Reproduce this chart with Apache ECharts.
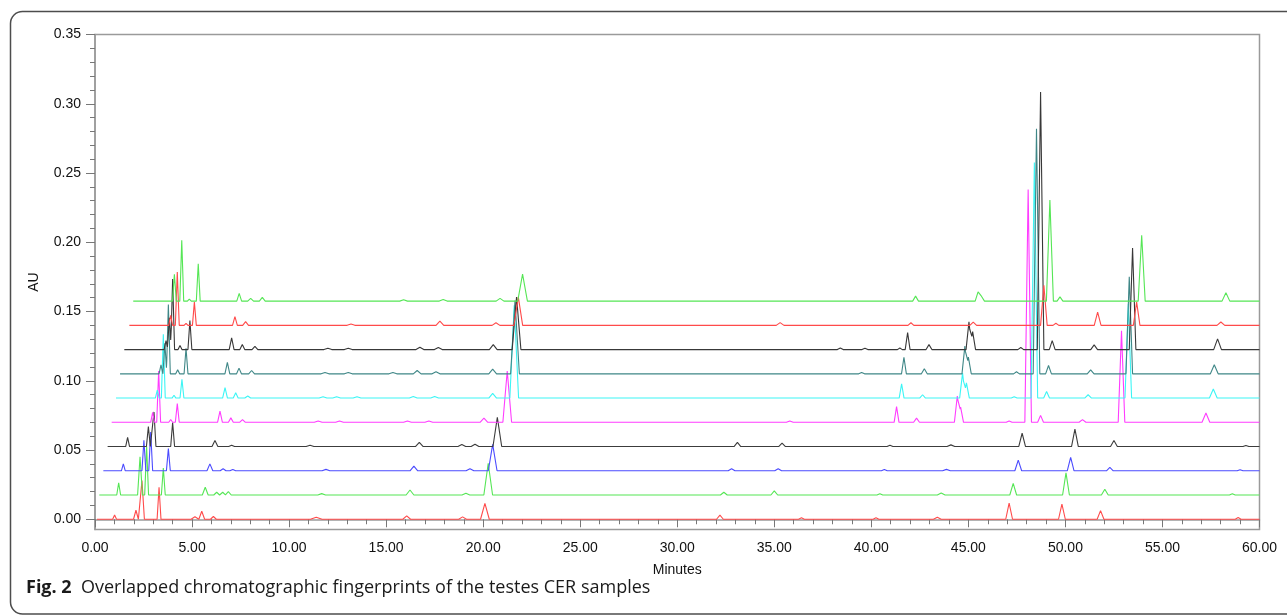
<!DOCTYPE html>
<html>
<head>
<meta charset="utf-8">
<title>Fig. 2</title>
<script src="https://cdn.jsdelivr.net/npm/echarts@6/dist/echarts.min.js"></script>
<style>
    html, body { margin: 0; padding: 0; background: #fff; }
    #e1 { width: 1287px; height: 615px; }
</style>
</head>
<body>
<div id="e1"></div>
<script>
// 10 traces, stacked upward and shifted right
var traceColors = ['#ff4a4a', '#55e655', '#4b4bff', '#3c3c3c', '#ff3cff', '#3cf5f5', '#3f8787', '#383838', '#ff4a4a', '#55e655'];
var traceBase = [0, 0.0175, 0.035, 0.0525, 0.070, 0.0875, 0.105, 0.1225, 0.140, 0.1575];
var traceStart = [0.10, 0.22, 0.43, 0.65, 0.86, 1.08, 1.29, 1.51, 1.77, 1.97];

// peaks: [minutes, height above baseline (AU), base width (min)]
var peaks0 = [[1.01, 0.003, 0.2], [2.11, 0.0065, 0.25], [2.42, 0.028, 0.25], [3.30, 0.023, 0.2], [5.15, 0.0018, 0.4],
    [5.50, 0.0058, 0.3], [6.10, 0.002, 0.3], [11.4, 0.0015, 0.6], [16.06, 0.0025, 0.4], [18.94, 0.0017, 0.4],
    [20.09, 0.0115, 0.45], [32.2, 0.003, 0.35], [36.4, 0.001, 0.3], [40.24, 0.001, 0.3], [43.4, 0.0015, 0.4],
    [47.10, 0.0116, 0.35], [49.82, 0.011, 0.35], [51.81, 0.0062, 0.35], [58.9, 0.0012, 0.3]];
var peaks1 = [[1.22, 0.0088, 0.2], [2.32, 0.0276, 0.25], [2.66, 0.035, 0.2], [3.52, 0.0195, 0.2], [5.68, 0.0056, 0.3],
    [6.27, 0.002, 0.3], [6.58, 0.002, 0.3], [6.87, 0.0025, 0.3], [11.68, 0.001, 0.4], [16.23, 0.0036, 0.4],
    [19.11, 0.0013, 0.4], [20.26, 0.0229, 0.45], [32.4, 0.002, 0.35], [35.0, 0.003, 0.35], [40.44, 0.001, 0.3],
    [43.6, 0.0015, 0.4], [47.31, 0.0084, 0.35], [50.03, 0.016, 0.35], [52.03, 0.0041, 0.35], [58.6, 0.001, 0.3]];
var peaks2 = [[1.46, 0.0050, 0.2], [2.52, 0.022, 0.2], [2.87, 0.028, 0.2], [3.78, 0.016, 0.2], [5.92, 0.0050, 0.3],
    [6.60, 0.0015, 0.3], [7.10, 0.001, 0.3], [11.9, 0.001, 0.4], [16.43, 0.0034, 0.4], [19.32, 0.0015, 0.4],
    [20.49, 0.019, 0.45], [32.8, 0.0015, 0.35], [35.2, 0.0015, 0.35], [40.67, 0.001, 0.3], [43.87, 0.001, 0.4],
    [47.57, 0.0077, 0.35], [50.27, 0.0096, 0.35], [52.29, 0.0024, 0.35], [59.0, 0.0008, 0.3]];
var peaks3 = [[1.68, 0.0066, 0.2], [2.75, 0.0144, 0.2], [3.04, 0.025, 0.2], [4.00, 0.0173, 0.2], [6.18, 0.0043, 0.3],
    [7.04, 0.001, 0.3], [11.08, 0.001, 0.4], [16.71, 0.003, 0.4], [18.9, 0.0015, 0.4], [19.58, 0.0017, 0.4],
    [20.73, 0.021, 0.45], [33.1, 0.003, 0.35], [35.4, 0.0025, 0.35], [40.96, 0.001, 0.3], [44.1, 0.0012, 0.4],
    [47.77, 0.0096, 0.35], [50.49, 0.0125, 0.35], [52.50, 0.0043, 0.35], [59.3, 0.0008, 0.3]];
var peaks4 = [[2.97, 0.0072, 0.2], [3.28, 0.037, 0.2], [3.90, 0.002, 0.2], [4.24, 0.0135, 0.2], [6.44, 0.008, 0.25],
    [7.00, 0.0032, 0.25], [7.60, 0.002, 0.3], [11.5, 0.001, 0.4], [12.6, 0.001, 0.4], [16.1, 0.001, 0.4],
    [17.2, 0.001, 0.4], [20.04, 0.0031, 0.4], [21.24, 0.037, 0.45], [35.8, 0.001, 0.35], [41.30, 0.0113, 0.25],
    [42.33, 0.003, 0.3], [44.43, 0.019, 0.3], [44.60, 0.011, 0.3], [47.10, 0.001, 0.3], [48.08, 0.168, 0.34],
    [48.72, 0.005, 0.3], [50.88, 0.0019, 0.35], [52.89, 0.066, 0.34], [57.24, 0.0067, 0.4]];
var peaks5 = [[3.21, 0.0058, 0.2], [3.52, 0.046, 0.2], [4.07, 0.002, 0.2], [4.48, 0.0135, 0.2], [6.70, 0.0075, 0.25],
    [7.25, 0.0038, 0.25], [7.87, 0.0015, 0.3], [11.75, 0.001, 0.4], [12.45, 0.001, 0.4], [13.5, 0.001, 0.4],
    [16.4, 0.0012, 0.4], [17.5, 0.0012, 0.4], [20.49, 0.0034, 0.4], [21.60, 0.067, 0.45], [41.56, 0.0103, 0.25],
    [42.64, 0.0024, 0.3], [44.70, 0.018, 0.3], [44.90, 0.011, 0.3], [47.36, 0.001, 0.3], [48.40, 0.170, 0.34],
    [49.03, 0.0048, 0.3], [51.17, 0.0024, 0.35], [53.24, 0.068, 0.34], [57.62, 0.0065, 0.4]];
var peaks6 = [[3.40, 0.0065, 0.2], [3.60, 0.022, 0.2], [3.78, 0.050, 0.2], [4.26, 0.003, 0.2], [4.69, 0.0185, 0.2],
    [6.82, 0.0082, 0.25], [7.42, 0.0041, 0.25], [8.07, 0.0024, 0.3], [11.85, 0.001, 0.4], [13.05, 0.001, 0.4],
    [15.35, 0.001, 0.4], [16.6, 0.0024, 0.4], [17.57, 0.0015, 0.4], [20.49, 0.0034, 0.4], [21.64, 0.053, 0.45],
    [39.5, 0.001, 0.3], [41.68, 0.012, 0.25], [42.73, 0.0036, 0.3], [44.82, 0.020, 0.3], [45.00, 0.012, 0.3],
    [47.48, 0.0015, 0.3], [48.51, 0.177, 0.34], [49.13, 0.006, 0.3], [51.30, 0.0029, 0.35], [53.29, 0.070, 0.34],
    [57.67, 0.0065, 0.4]];
var peaks7 = [[3.66, 0.0065, 0.2], [3.83, 0.023, 0.2], [4.00, 0.051, 0.2], [4.38, 0.003, 0.2], [4.89, 0.021, 0.2],
    [7.04, 0.0084, 0.25], [7.59, 0.0036, 0.25], [8.24, 0.0024, 0.3], [12.0, 0.001, 0.4], [13.05, 0.001, 0.4],
    [16.74, 0.0017, 0.4], [17.69, 0.0015, 0.4], [20.52, 0.0036, 0.4], [21.72, 0.038, 0.45], [38.4, 0.0012, 0.3],
    [39.67, 0.001, 0.3], [41.47, 0.0012, 0.25], [41.87, 0.0123, 0.25], [42.97, 0.0036, 0.3], [45.03, 0.020, 0.3],
    [45.22, 0.013, 0.3], [47.70, 0.0015, 0.3], [48.72, 0.186, 0.34], [49.32, 0.0065, 0.3], [51.48, 0.0034, 0.35],
    [53.46, 0.0734, 0.34], [57.84, 0.0077, 0.4]];
var peaks8 = [[3.90, 0.0072, 0.2], [4.24, 0.0385, 0.2], [4.69, 0.0015, 0.2], [5.12, 0.0168, 0.2], [7.21, 0.0063, 0.25],
    [7.76, 0.0027, 0.3], [13.19, 0.001, 0.4], [17.77, 0.0031, 0.4], [20.66, 0.0019, 0.4], [21.81, 0.0206, 0.45],
    [35.3, 0.002, 0.4], [42.04, 0.0019, 0.3], [45.25, 0.0024, 0.35], [48.89, 0.029, 0.34], [49.51, 0.0015, 0.3],
    [51.66, 0.0096, 0.35], [53.67, 0.0168, 0.34], [58.01, 0.0024, 0.4]];
var peaks9 = [[4.09, 0.0193, 0.2], [4.47, 0.044, 0.2], [4.86, 0.0015, 0.2], [5.32, 0.027, 0.2], [7.43, 0.0056, 0.25],
    [8.02, 0.002, 0.3], [8.62, 0.0027, 0.3], [15.9, 0.001, 0.4], [17.94, 0.0012, 0.4], [20.87, 0.002, 0.4],
    [22.03, 0.0195, 0.5], [42.28, 0.0036, 0.3], [45.50, 0.0067, 0.3], [45.68, 0.005, 0.3], [49.20, 0.073, 0.36],
    [49.72, 0.0031, 0.3], [53.93, 0.0476, 0.36], [58.27, 0.006, 0.4]];
var tracePeaks = [peaks0, peaks1, peaks2, peaks3, peaks4, peaks5, peaks6, peaks7, peaks8, peaks9];

var xTickLabels = [0, 5, 10, 15, 20, 25, 30, 35, 40, 45, 50, 55, 60];
var yTickLabels = [0.00, 0.05, 0.10, 0.15, 0.20, 0.25, 0.30, 0.35];
var yMinorTicks = [];
for (var k = 0; k <= 35; k++) {
    yMinorTicks.push(k / 100);
}

// polyline through the peak feet and apexes of one trace
function buildTrace(start, base, peaks) {
    var xs = [start, 60];
    for (var i = 0; i < peaks.length; i++) {
        xs.push(peaks[i][0] - peaks[i][2] / 2, peaks[i][0], peaks[i][0] + peaks[i][2] / 2);
    }
    xs = xs.filter(function (x) { return x >= start && x <= 60; });
    xs.sort(function (a, b) { return a - b; });
    var pts = [];
    for (var j = 0; j < xs.length; j++) {
        var x = xs[j], v = 0;
        for (var p = 0; p < peaks.length; p++) {
            var d = Math.abs(x - peaks[p][0]), half = peaks[p][2] / 2;
            if (d < half) v = Math.max(v, peaks[p][1] * (1 - d / half));
        }
        pts.push([x, base + v]);
    }
    return pts;
}

var seriesArr = [];
for (var s = 0; s < tracePeaks.length; s++) {
    seriesArr.push({
        type: 'line',
        data: buildTrace(traceStart[s], traceBase[s], tracePeaks[s]),
        showSymbol: false,
        silent: true,
        lineStyle: { color: traceColors[s], width: 1.1 },
        z: 2 + s
    });
}

var axisFont = { fontFamily: "'Liberation Sans', Arial, sans-serif", fontSize: 14, color: '#111' };
var e1 = echarts.init(document.getElementById('e1'));
var option1 = {
    animation: false,
    backgroundColor: '#fff',
    grid: {
        left: 95, right: 27.5, top: 34.5, bottom: 85.5,
        show: true, borderColor: '#9a9a9a', borderWidth: 1.5
    },
    xAxis: [{
        type: 'value', min: 0, max: 60, interval: 5,
        name: 'Minutes', nameLocation: 'middle', nameGap: 34,
        nameTextStyle: axisFont,
        axisLine: { lineStyle: { color: '#9a9a9a', width: 1.5 } },
        axisTick: { length: 8, lineStyle: { color: '#777' } },
        minorTick: { show: true, splitNumber: 5, length: 5, lineStyle: { color: '#777' } },
        axisLabel: Object.assign({ margin: 12, formatter: function (v) { return xTickLabels.indexOf(v) > -1 ? v.toFixed(2) : ''; } }, axisFont),
        splitLine: { show: false }
    }],
    yAxis: [{
        type: 'value', min: -0.0074, max: 0.35,
        name: 'AU', nameLocation: 'middle', nameGap: 54, nameRotate: 90,
        nameTextStyle: axisFont,
        axisLine: { show: true, lineStyle: { color: '#9a9a9a', width: 1.5 } },
        axisTick: { show: true, length: 9, customValues: yTickLabels, lineStyle: { color: '#777' } },
        axisLabel: Object.assign({ margin: 14, customValues: yTickLabels, formatter: function (v) { return v.toFixed(2); } }, axisFont),
        splitLine: { show: false }
    }, {
        type: 'value', min: -0.0074, max: 0.35, position: 'left',
        axisLine: { show: false },
        axisTick: { show: true, length: 5, customValues: yMinorTicks, lineStyle: { color: '#777' } },
        axisLabel: { show: false },
        splitLine: { show: false }
    }],
    graphic: [{
        type: 'rect',
        shape: { x: 10.5, y: 11.5, width: 1300, height: 602.5, r: 12 },
        style: { fill: 'none', stroke: '#4d4d4d', lineWidth: 1.5 },
        silent: true
    }, {
        type: 'text',
        left: 26, top: 579,
        style: {
            text: '{b|Fig. 2}  Overlapped chromatographic fingerprints of the testes CER samples',
            font: '18px "Open Sans", sans-serif',
            fill: '#1a1a1a',
            rich: {
                b: { font: 'bold 18px "Open Sans", sans-serif', fill: '#1a1a1a' }
            }
        }
    }],
    series: seriesArr
};
e1.setOption(option1);
window.onresize = function () {
    e1.resize();
};
</script>
</body>
</html>
